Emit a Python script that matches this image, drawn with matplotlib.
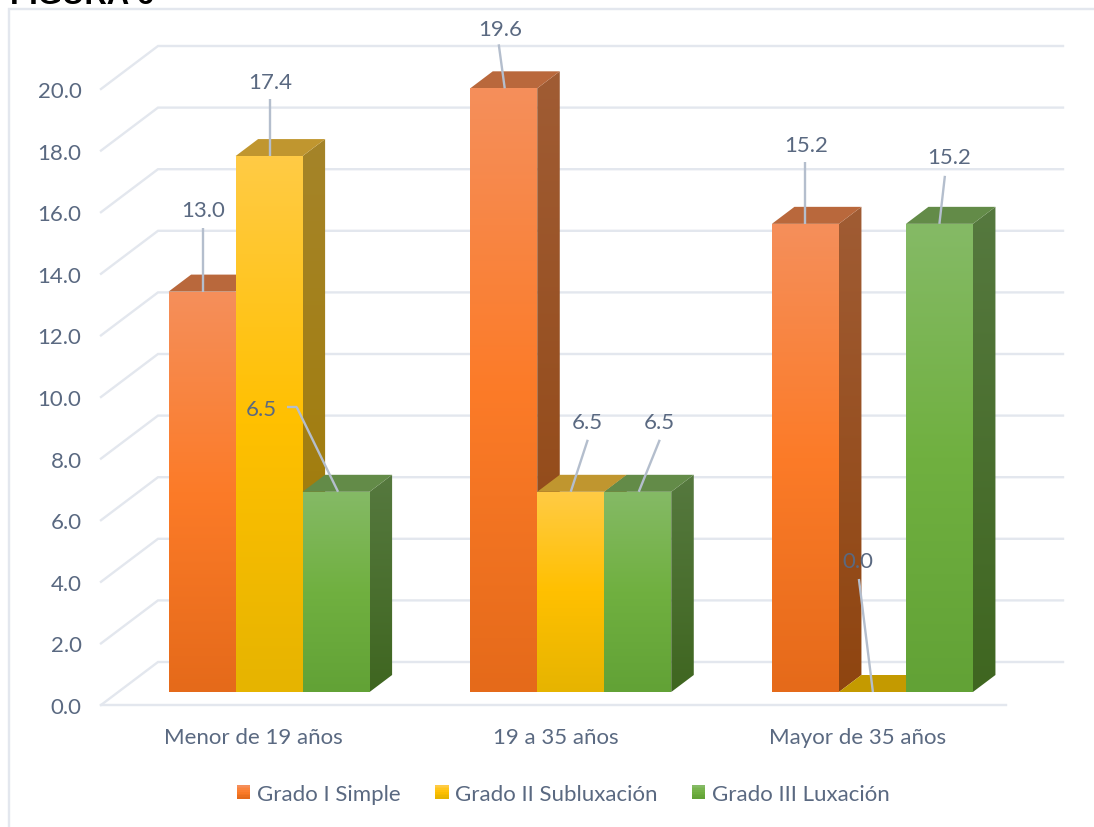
import matplotlib
matplotlib.use("Agg")
import matplotlib.pyplot as plt
import numpy as np
from matplotlib.colors import LinearSegmentedColormap
from matplotlib.patches import Polygon, Rectangle
from matplotlib.legend_handler import HandlerBase
from matplotlib.lines import Line2D
from matplotlib.transforms import ScaledTranslation

# ---- data ----
categories = ["Menor de 19 años", "19 a 35 años", "Mayor de 35 años"]
series_names = ["Grado I Simple", "Grado II Subluxación", "Grado III Luxación"]
grado_1 = [13.0, 19.6, 15.2]
grado_2 = [17.4, 6.5, 0.0]
grado_3 = [6.5, 6.5, 15.2]
y_ticks = [0, 2, 4, 6, 8, 10, 12, 14, 16, 18, 20]
title_text = "FIGURA 6"

# ---- styles ----
W, H, DPI = 1094, 828, 100
TXT = "#5A6981"
GRID = "#E3E7EE"
LEADER = "#B4BECD"
FONT = "Lato"
FS = 16
LW = 1.7
front = [["#F58F5B", "#FC7B28", "#E56A1A"],
         ["#FFCB45", "#FFC000", "#E6B400"],
         ["#85BA66", "#70B040", "#62A236"]]
side = [["#A05C34", "#8F4510"], ["#A58429", "#A07A00"], ["#56793F", "#3F6620"]]
topc = ["#B9683C", "#C0962F", "#638B48"]
zero_top = "#C49A00"

# leader geometry relative to the top centre of each bar (pixels)
label_off = [[(1.5, 82), (-4, 59), (0.5, 79)],
             [(1.5, 74), (17, 70), (-14.5, 131)],
             [(-74.5, 83), (22, 70), (9.5, 67)]]
leader_off = [[[(0.5, 0), (0.5, 64)], [(1, 0), (-5, 44)], [(0, 0), (0, 62)]],
              [[(0.5, 0), (0.5, 57)], [(0, 0), (17, 52)], [(0.5, 0), (-13.5, 113)]],
              [[(2, 0), (-39.5, 85), (-49.5, 85)], [(1, 0), (22, 52)], [(0, 0), (5.5, 48)]]]

plt.rcParams["font.family"] = [FONT, "DejaVu Sans"]
fig = plt.figure(figsize=(W / DPI, H / DPI), dpi=DPI, facecolor="white")


def px_rect(x0, y0, x1, y1):
    return [x0 / W, 1 - y1 / H, (x1 - x0) / W, (y1 - y0) / H]


ax = fig.add_axes(px_rect(101, 90, 1006, 706))
ax.set_xlim(-0.5, 2.5)
ax.set_ylim(0, 20)
ax.set_facecolor("none")
for s in ax.spines.values():
    s.set_visible(False)

PX_X = 905 / 3        # pixels per category
PX_Y = 616 / 20       # pixels per value unit
DX = 57 / PX_X        # floor depth in category units
DY = 43 / PX_Y        # floor depth in value units
D0, D1 = 13 / 43, 30 / 43
BW = 67 / PX_X


def prj(x, y, d):
    return (x + d * DX, y + d * DY)


# grid on walls and floor
for v in y_ticks:
    pts = [prj(-0.5, v, 0), prj(-0.5, v, 1), prj(2.5, v, 1)]
    ax.plot(*zip(*pts), color=GRID, lw=LW, clip_on=False, zorder=1, solid_joinstyle="miter")
ax.plot([-0.5, 2.5], [0, 0], color=GRID, lw=LW, clip_on=False, zorder=1)


def grad_face(pts, stops, z):
    pts = np.array(pts)
    cmap = LinearSegmentedColormap.from_list("g", stops)
    arr = np.linspace(0, 1, 256)[:, None]
    ext = [pts[:, 0].min(), pts[:, 0].max(), pts[:, 1].min(), pts[:, 1].max()]
    im = ax.imshow(arr, cmap=cmap, extent=ext, origin="upper", aspect="auto",
                   interpolation="bilinear", zorder=z)
    poly = Polygon(pts, closed=True, transform=ax.transData)
    im.set_clip_box(fig.bbox)
    im.set_clip_path(poly)


z = 2.0
all_series = [grado_1, grado_2, grado_3]
for g in range(len(categories)):
    for s, vals in enumerate(all_series):
        v = vals[g]
        x0 = g + (s - 1.5) * BW
        x1 = x0 + BW
        if v > 0:
            grad_face([prj(x0, 0, D0), prj(x1, 0, D0), prj(x1, v, D0), prj(x0, v, D0)], front[s], z + 0.03)
            grad_face([prj(x1, 0, D0), prj(x1, 0, D1), prj(x1, v, D1), prj(x1, v, D0)], side[s], z + 0.01)
        col = topc[s] if v > 0 else zero_top
        ax.add_patch(Polygon([prj(x0, v, D0), prj(x1, v, D0), prj(x1, v, D1), prj(x0, v, D1)],
                             closed=True, facecolor=col, edgecolor="none", clip_on=False, zorder=z + 0.02))
        z += 0.1

# data labels and leader lines
for s, vals in enumerate(all_series):
    for g, v in enumerate(vals):
        xc = g + (s - 1) * BW
        anchor = prj(xc, v, D0)
        segs = leader_off[s][g]
        for a, b in zip(segs[:-1], segs[1:]):
            ax.plot([anchor[0] + a[0] / PX_X, anchor[0] + b[0] / PX_X],
                    [anchor[1] + a[1] / PX_Y, anchor[1] + b[1] / PX_Y],
                    color=LEADER, lw=LW, clip_on=False, zorder=9, solid_capstyle="butt")
        ax.annotate(f"{v:.1f}", xy=anchor, xycoords="data", xytext=label_off[s][g],
                    textcoords="offset pixels", ha="center", va="center", color=TXT,
                    fontsize=FS, annotation_clip=False, zorder=10)

ax.set_xlim(-0.5, 2.5)
ax.set_ylim(0, 20)
ax.set_yticks(y_ticks)
ax.set_yticklabels([f"{v:.1f}" for v in y_ticks], color=TXT, fontsize=FS)
ax.set_xticks(range(len(categories)))
ax.set_xticklabels(categories, color=TXT, fontsize=FS)
ax.tick_params(axis="y", length=0, pad=14)
ax.tick_params(axis="x", length=0, pad=16)
nudge_x = ScaledTranslation(2 / DPI, 0, fig.dpi_scale_trans)
for lab in ax.get_xticklabels():
    lab.set_transform(lab.get_transform() + nudge_x)


class GradHandler(HandlerBase):
    def create_artists(self, legend, orig, xd, yd, w, h, fs, trans):
        cmap = LinearSegmentedColormap.from_list("g", orig.stops)
        n = 8
        out = []
        for i in range(n):
            out.append(Rectangle((xd * -1, -yd + h * (n - 1 - i) / n), w, h / n + 0.2,
                                 facecolor=cmap(i / (n - 1)), edgecolor="none", transform=trans))
        return out


handles = []
for s in range(3):
    r = Rectangle((0, 0), 1, 1)
    r.stops = front[s]
    handles.append(r)
leg = fig.legend(handles, series_names, handler_map={Rectangle: GradHandler()},
                 loc="center", bbox_to_anchor=((238 + 889) / 2 / W, 1 - 795 / H),
                 ncol=3, frameon=False, fontsize=FS, labelcolor=TXT, borderpad=0,
                 handlelength=0.6, handleheight=0.6, handletextpad=0.3, columnspacing=1.55)

# chart frame and clipped page heading
fig.add_artist(Line2D([9 / W, 9 / W, 1], [0, 1 - 10 / H, 1 - 10 / H], transform=fig.transFigure,
                      color=GRID, lw=LW, solid_joinstyle="miter"))
fig.text(10 / W, 1 - 4 / H, title_text, fontsize=22.4, fontweight="bold", color="black",
         family="Liberation Sans", va="baseline", ha="left")

fig.savefig("out.png", dpi=DPI)
